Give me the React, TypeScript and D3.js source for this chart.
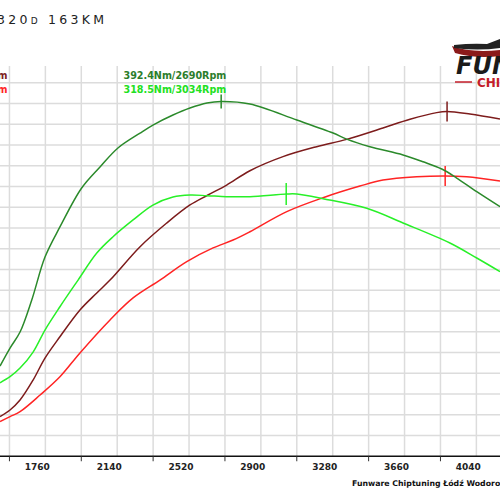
import React from 'react';
import * as d3 from 'd3';

// ---- data ----
const titleMake = 'BMW';
const titleModel = '320d 163KM';
const footerText = 'Funware Chiptuning Łódź Wodorowa 17';
const rpmLabels = [1760, 2140, 2520, 2900, 3280, 3660, 4040];
const rpmGrid = d3.range(1570, 4200, 190);
const rpmAxisTicks = [1570, 1950, 2330, 2710, 3090, 3470, 3850];
const powerGrid = d3.range(40, 211, 10);

const tunedTorqueRpm = [1520, 1573, 1626, 1688, 1758, 1837, 1952, 2049, 2144, 2261, 2329, 2435, 2525, 2615, 2690, 2842, 3090, 3282, 3354, 3477, 3652, 3758, 3857, 3936, 4042, 4165];
const tunedTorque = [181.1, 195.5, 208.3, 233.9, 268.2, 292.2, 323.3, 340.1, 355.3, 367.2, 373.6, 381.6, 387.2, 391.2, 392.4, 390.4, 377.6, 367.2, 362.4, 356.3, 349.7, 344.3, 338.5, 331.3, 320.4, 308.4];

const stockTorqueRpm = [1520, 1573, 1626, 1695, 1758, 1837, 1933, 2032, 2118, 2224, 2329, 2435, 2525, 2615, 2719, 2842, 3037, 3090, 3229, 3460, 3652, 3900, 4042, 4165];
const stockTorque = [167.8, 172.6, 179.5, 192.3, 209.9, 228.5, 249.8, 271.4, 284.4, 297.8, 309.7, 316.1, 317.7, 317.2, 316.4, 316.4, 318.5, 318.5, 314.8, 307.1, 295.4, 279.4, 267.4, 256.5];

const tunedPowerRpm = [1520, 1573, 1626, 1695, 1758, 1837, 1943, 2032, 2102, 2261, 2402, 2525, 2620, 2719, 2842, 3017, 3195, 3354, 3546, 3689, 3830, 3885, 4006, 4165];
const tunedPower = [49.1, 52.3, 57.1, 66.7, 77.3, 87.6, 100.5, 108.7, 114.9, 131, 142.4, 151.1, 155.9, 160.7, 167.6, 174.4, 179.2, 182.7, 188.2, 192.4, 195.6, 196.1, 194.9, 192.5];

const stockPowerRpm = [1520, 1573, 1626, 1732, 1837, 1943, 2102, 2224, 2366, 2508, 2647, 2753, 2842, 3037, 3229, 3424, 3546, 3724, 3875, 3989, 4165];
const stockPower = [46.7, 49.1, 51.5, 59.5, 68.3, 79.8, 95.7, 106.3, 114.9, 123.8, 130.4, 134.2, 138.2, 147.9, 154.6, 160.2, 163.1, 164.7, 165.1, 164.7, 162.7];

const tunedTorquePeak = [2690, 392.4];
const stockTorquePeak = [3034, 318.5];
const tunedPowerPeak = [3885, 196.1];
const stockPowerPeak = [3875, 165.1];

export default function App() {
  const W = 500, H = 500;
  const plotTop = 66, axisY = 456.25;
  const x = d3.scaleLinear().domain([1520, 4165]).range([0, 500]);
  const yPow = d3.scaleLinear().domain([30, 210]).range([456.25, 82.75]);
  const yTq = d3.scaleLinear().domain([110, 400]).range([455.1, 92.0]);

  const mk = (ys: d3.ScaleLinear<number, number>) =>
    d3.line<[number, number]>().x(d => x(d[0])).y(d => ys(d[1])).curve(d3.curveCatmullRom.alpha(0.5));
  const zip = (a: number[], b: number[]) => a.map((v, i) => [v, b[i]] as [number, number]);

  const series = [
    { pts: zip(stockPowerRpm, stockPower), ys: yPow, color: '#ff2424', peak: stockPowerPeak, h: 10 },
    { pts: zip(tunedPowerRpm, tunedPower), ys: yPow, color: '#7d1c1c', peak: tunedPowerPeak, h: 10 },
    { pts: zip(stockTorqueRpm, stockTorque), ys: yTq, color: '#28f028', peak: stockTorquePeak, h: 11 },
    { pts: zip(tunedTorqueRpm, tunedTorque), ys: yTq, color: '#2b8a2b', peak: tunedTorquePeak, h: 7 },
  ];

  const fmt = (p: number[], u: string) => `${p[1].toFixed(1)}${u}/${p[0]}Rpm`;

  return (
    <svg width={W} height={H} style={{ position: 'absolute', left: 0, top: 0, background: '#fff' }}>
      <defs>
        <clipPath id="plot">
          <rect x={0} y={plotTop} width={500} height={axisY - plotTop} />
        </clipPath>
      </defs>
      <rect x={0} y={0} width={W} height={H} fill="#fff" />
      {/* grid */}
      {rpmGrid.map(r => (
        <line key={'v' + r} x1={x(r)} x2={x(r)} y1={plotTop} y2={axisY} stroke="#dcdcdc" strokeWidth={1.5} />
      ))}
      {powerGrid.map(p => (
        <line key={'h' + p} x1={0} x2={500} y1={yPow(p)} y2={yPow(p)} stroke="#dcdcdc" strokeWidth={1.5} />
      ))}
      {/* axis */}
      <line x1={0} x2={500} y1={axisY} y2={axisY} stroke="#111" strokeWidth={1.5} />
      {rpmAxisTicks.map(r => (
        <line key={'t' + r} x1={x(r)} x2={x(r)} y1={axisY} y2={axisY + 5} stroke="#333" strokeWidth={1} />
      ))}
      {rpmLabels.map(r => (
        <text key={'l' + r} x={x(r) - 8} y={470} textAnchor="middle" fontFamily="DejaVu Sans" fontWeight="bold" fontSize={9} fill="#222">
          {r}
        </text>
      ))}
      {/* curves */}
      <g clipPath="url(#plot)">
        {series.map((s, i) => (
          <g key={i}>
            <path d={mk(s.ys)(s.pts) || ''} fill="none" stroke={s.color} strokeWidth={1.5} />
            <line x1={x(s.peak[0])} x2={x(s.peak[0])} y1={s.ys(s.peak[1]) - s.h} y2={s.ys(s.peak[1]) + s.h} stroke={s.color} strokeWidth={1.5} />
          </g>
        ))}
      </g>
      {/* peak labels */}
      <g fontFamily="DejaVu Sans" fontWeight="bold" fontSize={9.6}>
        <text x={7.5} y={78.5} textAnchor="end" fill="#7d1c1c">{fmt(tunedPowerPeak, 'KM')}</text>
        <text x={7.5} y={92.5} textAnchor="end" fill="#ff2424">{fmt(stockPowerPeak, 'KM')}</text>
        <text x={123.5} y={78.5} fill="#2b7d2b">{fmt(tunedTorquePeak, 'Nm')}</text>
        <text x={123.5} y={92.5} fill="#22e022">{fmt(stockTorquePeak, 'Nm')}</text>
      </g>
      {/* title */}
      <text x={-10} y={24} textAnchor="end" fontFamily="DejaVu Sans" fontSize={12.5} fill="#222">{titleMake}</text>
      <text x={-3} y={24} fontFamily="DejaVu Sans" fontVariant="small-caps" fontSize={12.5} fill="#222"
        textLength={107} lengthAdjust="spacing">
        {titleModel}
      </text>
      {/* logo */}
      <path d="M452,46 Q470,53 500,50 L500,56 Q476,59 455,53 Z" fill="#8b1a1a" />
      <path d="M454,45 Q472,43 487,44 L500,39 L500,48 Q478,51 454,48 Z" fill="#222" />
      <text x={456} y={74} fontFamily="DejaVu Sans" fontWeight="bold" fontStyle="italic" fontSize={24} fill="#1a1a1a">FUNWARE</text>
      <line x1={455} x2={472} y1={82} y2={82} stroke="#c41e2a" strokeWidth={1.5} />
      <text x={477} y={87} fontFamily="DejaVu Sans" fontWeight="bold" fontSize={12} fill="#c41e2a">CHIPTUNING</text>
      {/* footer */}
      <text x={352} y={486} fontFamily="DejaVu Sans" fontWeight="bold" fontSize={7.8} fill="#111">{footerText}</text>
    </svg>
  );
}
